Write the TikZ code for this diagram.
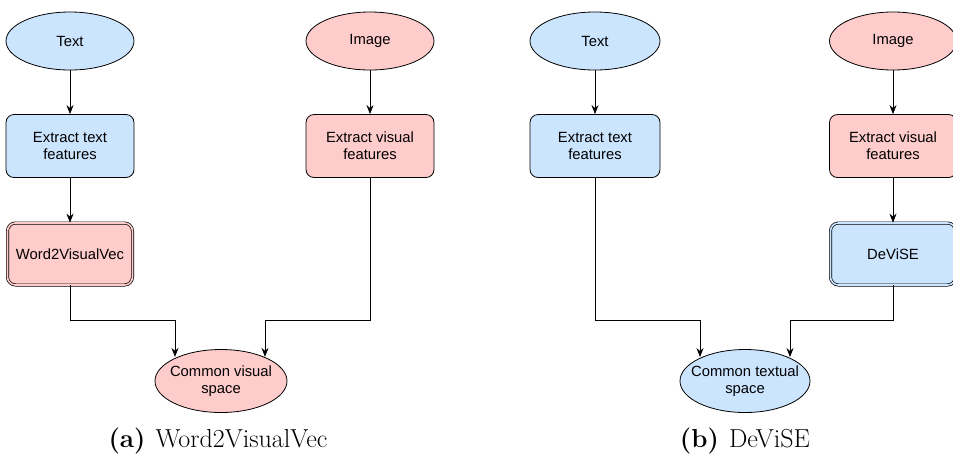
\documentclass[tikz,border=0pt]{standalone}
\usepackage{fontspec}
\newfontfamily\nodefont{Liberation Sans}
\usetikzlibrary{arrows.meta,shapes.geometric}
\definecolor{bluef}{HTML}{CCE5FF}
\definecolor{pinkf}{HTML}{FFCCCC}
\begin{document}
\begin{tikzpicture}[x=1pt,y=-1pt,
  every node/.style={font=\nodefont\fontsize{14.8}{17}\selectfont, align=center, inner sep=0pt},
  ell/.style={ellipse, draw, line width=0.8pt, inner xsep=-22pt, inner ysep=-6pt, minimum width=128pt, minimum height=58pt},
  box/.style={rectangle, rounded corners=8pt, draw, line width=0.8pt, minimum width=128pt, minimum height=63pt},
  dbox/.style={rectangle, rounded corners=8pt, draw, line width=0.7pt, double distance=1.6pt, minimum width=125pt, minimum height=62pt},
  conn/.style={line width=0.8pt, -{Stealth[length=9pt,width=7pt]}},
  captext/.style={font=\fontsize{26}{29}\selectfont}
]
\useasboundingbox (0,0) rectangle (953,459);
% panel (a)
\node[ell, fill=bluef] (ta) at (70,41) {Text};
\node[ell, fill=pinkf] (ia) at (370,41) {Image};
\node[box, fill=bluef] (eta) at (70,146) {Extract text\\features};
\node[box, fill=pinkf] (eva) at (370,146) {Extract visual\\features};
\node[dbox, fill=pinkf, double=pinkf] (w2v) at (70,254) {Word2VisualVec};
\node[ell, fill=pinkf, minimum width=132pt, minimum height=63pt] (cvs) at (221,381) {Common visual\\space};
\coordinate (a1) at (175,320);
\coordinate (a2) at (265,320);
\draw[conn] (ta) -- (eta);
\draw[conn] (ia) -- (eva);
\draw[conn] (eta) -- (w2v);
\draw[conn] (w2v.south) |- (a1) -- (a1 |- cvs.151);
\draw[conn] (eva.south) |- (a2) -- (a2 |- cvs.29);
\node[captext] (capa) at (218,441) {\textbf{(a)}\hspace{10pt}Word2VisualVec};
% panel (b)
\node[ell, fill=bluef, minimum width=130pt] (tb) at (595,41) {Text};
\node[ell, fill=pinkf, minimum width=127pt] (ib) at (893,41) {Image};
\node[box, fill=bluef, minimum width=130pt] (etb) at (595,146) {Extract text\\features};
\node[box, fill=pinkf, minimum width=127pt] (evb) at (893,146) {Extract visual\\features};
\node[dbox, fill=bluef, double=bluef] (dev) at (893,254) {DeViSE};
\node[ell, fill=bluef, minimum width=130pt, minimum height=63pt] (cts) at (745,381) {Common textual\\space};
\coordinate (b1) at (700,320);
\coordinate (b2) at (790,320);
\draw[conn] (tb) -- (etb);
\draw[conn] (ib) -- (evb);
\draw[conn] (evb) -- (dev);
\draw[conn] (etb.south) |- (b1) -- (b1 |- cts.151);
\draw[conn] (dev.south) |- (b2) -- (b2 |- cts.29);
\node[captext] (capb) at (745,441) {\textbf{(b)}\hspace{10pt}DeViSE};
\end{tikzpicture}
\end{document}
